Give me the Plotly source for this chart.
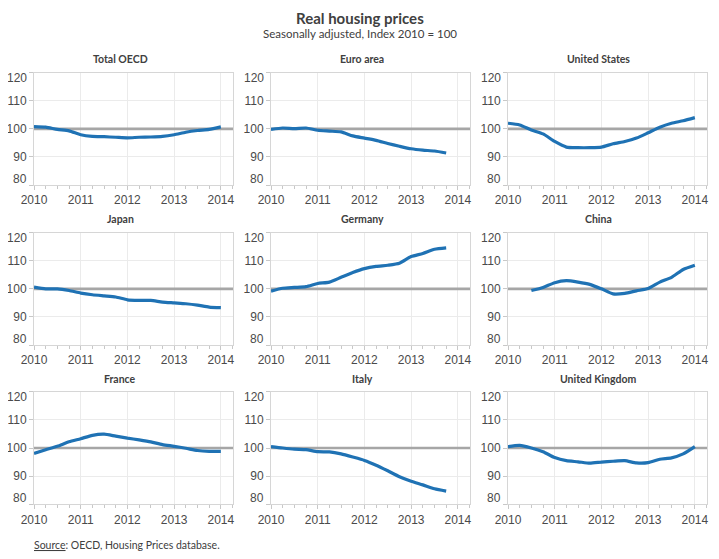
import plotly.graph_objects as go
from plotly.subplots import make_subplots

quarters = [2010.0, 2010.25, 2010.5, 2010.75, 2011.0, 2011.25, 2011.5, 2011.75,
            2012.0, 2012.25, 2012.5, 2012.75, 2013.0, 2013.25, 2013.5, 2013.75, 2014.0]

countries = ["Total OECD", "Euro area", "United States",
             "Japan", "Germany", "China",
             "France", "Italy", "United Kingdom"]

total_oecd = [100.8, 100.6, 99.8, 99.3, 97.9, 97.3, 97.2, 97.0, 96.8, 97.0, 97.1, 97.3, 97.9, 98.8, 99.4, 99.8, 100.7]
euro_area = [99.8, 100.3, 100.1, 100.3, 99.5, 99.2, 98.9, 97.5, 96.7, 95.9, 94.8, 93.8, 92.9, 92.4, 92.1, 91.4, None]
united_states = [102.0, 101.4, 99.6, 98.2, 95.5, 93.5, 93.3, 93.3, 93.5, 94.7, 95.5, 96.7, 98.6, 100.6, 102.0, 102.9, 104.0]
japan = [100.6, 100.0, 100.0, 99.4, 98.5, 97.9, 97.5, 97.1, 96.1, 95.9, 95.9, 95.3, 95.0, 94.7, 94.2, 93.5, 93.3]
germany = [99.2, 100.2, 100.5, 100.8, 101.9, 102.4, 104.1, 105.8, 107.2, 108.0, 108.4, 109.1, 111.5, 112.6, 114.1, 114.6, None]
china = [None, None, 99.4, 100.5, 102.2, 102.9, 102.4, 101.6, 100.0, 98.2, 98.4, 99.3, 100.1, 102.4, 104.1, 106.9, 108.4]
france = [98.1, 99.4, 100.6, 102.2, 103.3, 104.5, 104.9, 104.2, 103.5, 102.9, 102.2, 101.2, 100.6, 99.9, 99.1, 98.8, 98.8]
italy = [100.5, 100.0, 99.6, 99.4, 98.7, 98.6, 97.9, 96.8, 95.6, 93.9, 91.9, 89.8, 88.2, 86.9, 85.5, 84.7, None]
united_kingdom = [100.5, 100.9, 100.0, 98.7, 96.6, 95.5, 95.1, 94.6, 95.0, 95.3, 95.5, 94.7, 94.8, 96.0, 96.5, 97.9, 100.5]

series = [total_oecd, euro_area, united_states, japan, germany, china, france, italy, united_kingdom]

year_ticks = [2010, 2011, 2012, 2013, 2014]
year_labels = ["2010", "2011", "2012", "2013", "2014"]
y_ticks = [80, 90, 100, 110, 120]
y_min, y_max = 80, 120
x_range = [2010, 2014.26]
baseline = 100

# page body has an 8px margin: shrink figure and shift positions to compensate
OFF = 8
W, H = 719 - OFF, 559 - OFF


def px_x(p):
    return (p - OFF) / W


def px_y(p):
    return 1 - (p - OFF) / H


col_px = [(34, 233), (271, 470), (508, 707)]
row_px = [(72.7, 185), (232.7, 345), (391.7, 504.3)]
title_x_px = [120, 362, 598]
title_y_px = [59, 219, 379]

fig = make_subplots(rows=3, cols=3)

tick_font = dict(family="Liberation Sans, Arial, sans-serif", size=12, color="#4a4a4a")
line_color = "#1f72b4"

# inner tick labels shown natively; the edge labels (120 / 80) are nudged inward as in the source
y_ticktext = ["" if v in (y_min, y_max) else str(v) for v in y_ticks]

for i, (name, vals) in enumerate(zip(countries, series)):
    r, c = i // 3, i % 3
    # reference line at the base index, drawn under the series line
    fig.add_trace(go.Scatter(x=x_range, y=[baseline, baseline], mode="lines",
                             line=dict(color="#a6a6a6", width=2.6),
                             showlegend=False, hoverinfo="skip", cliponaxis=True),
                  row=r + 1, col=c + 1)
    xs = [q for q, v in zip(quarters, vals) if v is not None]
    ys = [v for v in vals if v is not None]
    fig.add_trace(go.Scatter(x=xs, y=ys, mode="lines",
                             line=dict(color=line_color, width=3.2, shape="spline", smoothing=0.6),
                             showlegend=False, hoverinfo="skip"),
                  row=r + 1, col=c + 1)
    idx = "" if i == 0 else str(i + 1)
    xa = "xaxis" + idx
    ya = "yaxis" + idx
    x0, x1 = col_px[c]
    yt, yb = row_px[r]
    fig.layout[xa].update(
        domain=[px_x(x0), px_x(x1)], range=x_range, automargin=False,
        tickvals=year_ticks, ticktext=year_labels, tickfont=tick_font,
        showgrid=True, gridcolor="#ebebeb", gridwidth=1,
        showline=True, linecolor="#d6d6d6", linewidth=1, mirror=True,
        ticks="outside", ticklen=4, tickcolor="#c8c8c8",
        minor=dict(dtick=0.25, tick0=2010, ticks="outside", ticklen=2.5, tickcolor="#c8c8c8", showgrid=False),
        zeroline=False, fixedrange=True)
    fig.layout[ya].update(
        domain=[px_y(yb), px_y(yt)], range=[y_min, y_max], automargin=False,
        tickvals=y_ticks, ticktext=y_ticktext, tickfont=tick_font,
        showgrid=True, gridcolor="#ebebeb", gridwidth=1,
        showline=True, linecolor="#d6d6d6", linewidth=1, mirror=True,
        ticks="outside", ticklen=4, tickcolor="#c8c8c8",
        zeroline=False, fixedrange=True)
    for val, ysh in ((y_max, -5.5), (y_min, 6.5)):
        fig.add_annotation(text=str(val), xref=("x" + idx) + " domain", yref="y" + idx,
                           x=0, y=val, xanchor="right", yanchor="middle",
                           xshift=-5, yshift=ysh, showarrow=False, font=tick_font)
    fig.add_annotation(text="<b>" + name + "</b>", xref="paper", yref="paper",
                       x=px_x(title_x_px[c]), y=px_y(title_y_px[r]),
                       showarrow=False, xanchor="center", yanchor="middle",
                       font=dict(family="Lato, Open Sans, sans-serif", size=10.5, color="#404040"))

fig.add_annotation(text="<b>Real housing prices</b>", xref="paper", yref="paper",
                   x=px_x(359.5), y=px_y(18), showarrow=False, xanchor="center", yanchor="middle",
                   font=dict(family="Lato, Open Sans, sans-serif", size=15, color="#404040"))
fig.add_annotation(text="Seasonally adjusted, Index 2010 = 100", xref="paper", yref="paper",
                   x=px_x(359.5), y=px_y(33.5), showarrow=False, xanchor="center", yanchor="middle",
                   font=dict(family="Lato, Open Sans, sans-serif", size=11.5, color="#404040"))
fig.add_annotation(text="<u>Source</u>: OECD, Housing Prices database.", xref="paper", yref="paper",
                   x=px_x(32), y=px_y(545), showarrow=False, xanchor="left", yanchor="middle",
                   font=dict(family="Lato, Open Sans, sans-serif", size=10.5, color="#404040"))

fig.update_layout(width=W, height=H, margin=dict(l=0, r=0, t=0, b=0, autoexpand=False),
                  paper_bgcolor="white", plot_bgcolor="white")

fig.write_html("out.html")
